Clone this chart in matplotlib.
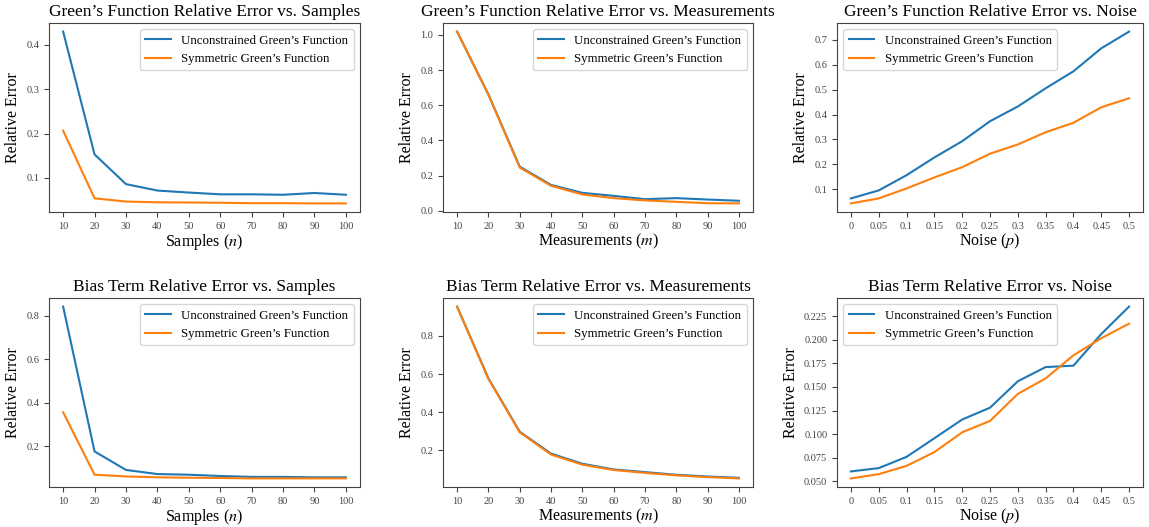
import matplotlib
matplotlib.use("Agg")
import matplotlib.pyplot as plt

plt.rcParams['font.family'] = ['Liberation Serif', 'DejaVu Serif']
plt.rcParams['mathtext.fontset'] = 'stix'

samples = [10, 20, 30, 40, 50, 60, 70, 80, 90, 100]
measurements = [10, 20, 30, 40, 50, 60, 70, 80, 90, 100]
noise = [0, 0.05, 0.1, 0.15, 0.2, 0.25, 0.3, 0.35, 0.4, 0.45, 0.5]
noise_labels = ["0", "0.05", "0.1", "0.15", "0.2", "0.25", "0.3", "0.35", "0.4", "0.45", "0.5"]

g_samples_unc = [0.430, 0.153, 0.086, 0.0715, 0.067, 0.063, 0.063, 0.062, 0.066, 0.062]
g_samples_sym = [0.2065, 0.054, 0.0467, 0.045, 0.0445, 0.044, 0.043, 0.043, 0.0425, 0.0425]
g_meas_unc = [1.019, 0.662, 0.251, 0.147, 0.102, 0.085, 0.066, 0.072, 0.064, 0.057]
g_meas_sym = [1.019, 0.660, 0.246, 0.142, 0.093, 0.072, 0.059, 0.051, 0.043, 0.042]
g_noise_unc = [0.064, 0.096, 0.157, 0.228, 0.293, 0.373, 0.432, 0.505, 0.573, 0.665, 0.732]
g_noise_sym = [0.044, 0.064, 0.104, 0.148, 0.189, 0.243, 0.280, 0.329, 0.367, 0.429, 0.465]

b_samples_unc = [0.843, 0.177, 0.092, 0.073, 0.070, 0.064, 0.060, 0.060, 0.058, 0.058]
b_samples_sym = [0.357, 0.070, 0.062, 0.058, 0.056, 0.055, 0.053, 0.053, 0.053, 0.053]
b_meas_unc = [0.954, 0.578, 0.298, 0.183, 0.130, 0.100, 0.086, 0.072, 0.063, 0.056]
b_meas_sym = [0.953, 0.575, 0.295, 0.178, 0.125, 0.097, 0.082, 0.069, 0.060, 0.053]
b_noise_unc = [0.0606, 0.0641, 0.076, 0.0957, 0.1155, 0.128, 0.156, 0.171, 0.1725, 0.206, 0.235]
b_noise_sym = [0.0532, 0.0577, 0.0665, 0.081, 0.102, 0.114, 0.1426, 0.159, 0.1835, 0.2015, 0.217]

yt_g_samples = [0.1, 0.2, 0.3, 0.4]
yt_g_meas = [0.0, 0.2, 0.4, 0.6, 0.8, 1.0]
yt_g_noise = [0.1, 0.2, 0.3, 0.4, 0.5, 0.6, 0.7]
yt_b_samples = [0.2, 0.4, 0.6, 0.8]
yt_b_meas = [0.2, 0.4, 0.6, 0.8]
yt_b_noise = [0.050, 0.075, 0.100, 0.125, 0.150, 0.175, 0.200, 0.225]

labels = ["Unconstrained Green\u2019s Function", "Symmetric Green\u2019s Function"]

W, H = 1149, 527
fig = plt.figure(figsize=(W / 100, H / 100), dpi=100)

cols = [(49, 360), (443, 753), (837, 1143)]
rows = [(23, 212), (298, 487)]

def make_ax(r, c):
    l, rr = cols[c]
    t, b = rows[r]
    return fig.add_axes([l / W, 1 - b / H, (rr - l) / W, (b - t) / H])

panels = [
    (0, 0, samples, g_samples_unc, g_samples_sym, "Green\u2019s Function Relative Error vs. Samples", r"Samples ($n$)", None, yt_g_samples, "{:.1f}", 'upper right'),
    (0, 1, measurements, g_meas_unc, g_meas_sym, "Green\u2019s Function Relative Error vs. Measurements", r"Measurements ($m$)", None, yt_g_meas, "{:.1f}", 'upper right'),
    (0, 2, noise, g_noise_unc, g_noise_sym, "Green\u2019s Function Relative Error vs. Noise", r"Noise ($p$)", noise_labels, yt_g_noise, "{:.1f}", 'upper left'),
    (1, 0, samples, b_samples_unc, b_samples_sym, "Bias Term Relative Error vs. Samples", r"Samples ($n$)", None, yt_b_samples, "{:.1f}", 'upper right'),
    (1, 1, measurements, b_meas_unc, b_meas_sym, "Bias Term Relative Error vs. Measurements", r"Measurements ($m$)", None, yt_b_meas, "{:.1f}", 'upper right'),
    (1, 2, noise, b_noise_unc, b_noise_sym, "Bias Term Relative Error vs. Noise", r"Noise ($p$)", noise_labels, yt_b_noise, "{:.3f}", 'upper left'),
]

for r, c, x, yu, ys, title, xlabel, xtl, yt, fmt, loc in panels:
    ax = make_ax(r, c)
    ax.plot(x, yu, color='#1f77b4', lw=1.5, label=labels[0])
    ax.plot(x, ys, color='#ff7f0e', lw=1.5, label=labels[1])
    ax.set_title(title, fontsize=12.5, pad=5)
    ax.set_xlabel(xlabel, fontsize=11.5, labelpad=1)
    ax.set_ylabel("Relative Error", fontsize=11.5, labelpad=3.5)
    ax.set_xticks(x)
    if xtl is not None:
        ax.set_xticklabels(xtl)
    ax.set_yticks(yt)
    ax.set_yticklabels([fmt.format(v) for v in yt])
    ax.tick_params(labelsize=7.5, colors='#444444', labelcolor='#444444')
    for s in ax.spines.values():
        s.set_color('#444444')
    ax.legend(fontsize=9.3, loc=loc, handlelength=2.0)

fig.savefig("out.png", dpi=100)
